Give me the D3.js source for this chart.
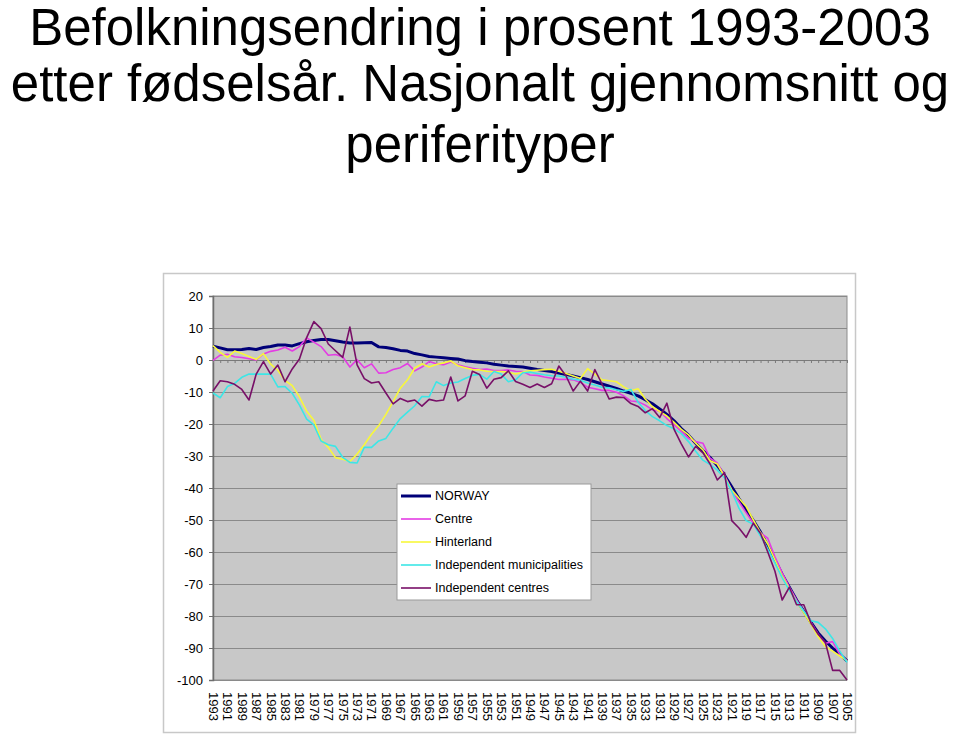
<!DOCTYPE html>
<html>
<head>
<meta charset="utf-8">
<script src="https://cdn.jsdelivr.net/npm/d3@7"></script>
<style>
html,body{margin:0;padding:0;background:#fff;}
svg{display:block;font-family:"Liberation Sans",Arial,sans-serif;}
</style>
</head>
<body>
<svg id="chart" width="960" height="734"></svg>
<script>
const titleLines = ["Befolkningsendring i prosent 1993-2003", "etter fødselsår. Nasjonalt gjennomsnitt og", "periferityper"];

const years = [1993,1992,1991,1990,1989,1988,1987,1986,1985,1984,1983,1982,1981,1980,1979,1978,1977,1976,1975,1974,
1973,1972,1971,1970,1969,1968,1967,1966,1965,1964,1963,1962,1961,1960,1959,1958,1957,1956,1955,1954,
1953,1952,1951,1950,1949,1948,1947,1946,1945,1944,1943,1942,1941,1940,1939,1938,1937,1936,1935,1934,
1933,1932,1931,1930,1929,1928,1927,1926,1925,1924,1923,1922,1921,1920,1919,1918,1917,1916,1915,1914,
1913,1912,1911,1910,1909,1908,1907,1906,1905];

const xTickLabels = [1993,1991,1989,1987,1985,1983,1981,1979,1977,1975,1973,1971,1969,1967,1965,1963,1961,1959,1957,1955,
1953,1951,1949,1947,1945,1943,1941,1939,1937,1935,1933,1931,1929,1927,1925,1923,1921,1919,1917,1915,1913,1911,1909,1907,1905];

const yTicks = [20,10,0,-10,-20,-30,-40,-50,-60,-70,-80,-90,-100];

const seriesNames = ["NORWAY","Centre","Hinterland","Independent municipalities","Independent centres"];

const norway = [4.3,3.8,3.2,3.2,3.3,3.6,3.3,3.9,4.2,4.7,4.7,4.4,5.1,5.7,6.1,6.4,6.4,6.0,5.6,5.3,
5.3,5.4,5.5,4.1,3.9,3.5,3.0,2.8,2.0,1.6,1.1,0.9,0.7,0.5,0.3,-0.2,-0.5,-0.7,-0.9,-1.3,
-1.6,-1.9,-2.0,-2.2,-2.6,-3.0,-3.3,-3.6,-4.1,-4.5,-5.0,-5.5,-6.1,-6.8,-7.5,-8.2,-8.9,-9.7,-10.4,-11.2,
-12.4,-13.7,-15.3,-17.0,-19.0,-21.4,-23.5,-26.0,-28.3,-30.5,-33.0,-36.0,-39.6,-43.3,-46.8,-50.2,-53.8,-58.0,-62.5,-67.0,
-71.0,-75.0,-78.5,-82.0,-85.3,-87.8,-90.0,-92.0,-94.0];

const centre = [-0.1,1.5,1.8,1.0,0.8,0.4,0.0,1.9,2.7,3.1,4.0,2.8,4.2,6.9,5.6,4.2,1.5,1.7,1.0,-2.2,
0.1,-2.4,-1.2,-4.1,-4.0,-3.0,-2.4,-1.1,-3.4,-2.2,-0.5,-1.2,-1.5,-0.6,-1.5,-2.1,-2.6,-3.0,-2.8,-3.3,
-3.3,-3.1,-3.5,-3.6,-4.7,-4.8,-5.3,-5.7,-6.1,-6.0,-6.2,-7.0,-8.5,-9.0,-9.5,-9.5,-10.1,-11.2,-12.8,-13.0,
-14.1,-15.6,-16.0,-18.3,-20.3,-22.3,-24.5,-25.5,-26.0,-30.7,-32.2,-36.0,-40.6,-44.3,-47.7,-51.0,-54.0,-55.7,-61.5,-66.5,
-71.0,-75.0,-78.5,-82.0,-85.7,-88.5,-88.0,-92.0,-94.0];

const hinterland = [4.5,2.4,0.8,2.8,2.0,1.1,0.2,2.0,-1.3,-3.2,-6.4,-8.0,-11.5,-16.0,-18.8,-24.8,-27.3,-30.5,-31.0,-31.7,
-29.4,-26.5,-23.2,-20.5,-17.0,-13.0,-8.8,-6.2,-2.5,-1.2,-2.2,-1.4,-0.9,-0.3,-1.8,-2.4,-3.0,-3.1,-3.5,-3.6,
-3.6,-3.8,-4.4,-3.8,-3.4,-3.2,-3.0,-2.9,-3.5,-4.2,-5.0,-5.8,-2.7,-4.4,-6.2,-6.5,-6.8,-8.4,-9.6,-9.0,
-12.2,-14.6,-16.1,-17.5,-19.5,-21.7,-23.4,-26.0,-28.1,-31.5,-32.5,-36.5,-40.6,-43.2,-45.8,-50.0,-54.0,-57.5,-62.5,-67.5,
-71.5,-75.5,-79.0,-82.5,-86.5,-89.5,-91.0,-92.5,-94.0];

const indepMunicipalities = [-10.3,-11.8,-8.3,-7.3,-5.4,-4.4,-4.4,-4.4,-4.4,-8.4,-8.3,-10.4,-14.1,-18.5,-20.3,-25.3,-26.5,-27.0,-30.4,-32.0,
-32.2,-27.3,-27.3,-25.3,-24.5,-21.3,-18.3,-16.3,-14.3,-11.4,-11.5,-6.8,-8.0,-7.2,-6.9,-5.8,-4.8,-4.5,-6.0,-3.6,
-4.4,-6.8,-6.2,-4.0,-3.8,-4.2,-4.6,-4.9,-5.0,-5.4,-6.0,-6.3,-7.2,-7.8,-8.5,-8.7,-9.3,-9.8,-9.2,-13.2,
-15.8,-17.7,-19.0,-20.5,-21.5,-23.0,-25.5,-28.5,-31.3,-32.7,-34.4,-36.8,-41.0,-46.3,-50.2,-51.3,-55.0,-59.0,-63.5,-68.0,
-72.0,-75.5,-78.5,-81.5,-82.0,-84.0,-87.0,-91.0,-94.5];

const indepCentres = [-9.7,-6.5,-6.8,-7.6,-9.2,-12.5,-4.4,-0.5,-4.4,-1.6,-6.8,-2.8,0.3,7.0,12.0,9.8,5.0,2.9,0.8,10.3,
-1.5,-5.8,-7.2,-6.8,-10.3,-13.7,-12.0,-13.0,-12.5,-14.4,-12.3,-12.8,-12.5,-5.3,-12.8,-11.2,-3.5,-4.5,-8.8,-6.0,
-5.5,-3.4,-6.7,-7.6,-8.6,-7.5,-8.6,-7.4,-1.9,-5.0,-9.7,-6.6,-9.7,-3.0,-7.5,-12.2,-11.6,-11.7,-13.6,-14.5,
-16.5,-15.2,-18.0,-13.5,-21.7,-26.2,-30.3,-27.0,-29.0,-32.5,-37.5,-35.2,-50.2,-52.5,-55.4,-51.0,-54.2,-60.0,-66.0,-75.0,
-71.0,-76.5,-76.5,-82.2,-85.7,-88.3,-97.0,-97.0,-100.0];

const seriesValues = [norway, centre, hinterland, indepMunicipalities, indepCentres];
const seriesColors = ["#000078", "#e43ce4", "#f8f83a", "#3ce6e6", "#781068"];
const seriesWidths = [3, 1.6, 1.6, 1.6, 1.6];

const svg = d3.select("#chart");

// title
svg.append("g").selectAll("text").data(titleLines).join("text")
  .attr("x", 480)
  .attr("y", (d, i) => [45, 101, 162][i])
  .attr("text-anchor", "middle")
  .attr("font-size", 51)
  .attr("fill", "#000")
  .text(d => d);

// outer chart frame
svg.append("rect")
  .attr("x", 163.5).attr("y", 273.5).attr("width", 692).attr("height", 459)
  .attr("fill", "#fff").attr("stroke", "#c8c8c8").attr("stroke-width", 1.5);

const plot = {left: 213, right: 847, top: 296, bottom: 680};

const x = d3.scalePoint().domain(years).range([plot.left, plot.right]);
const y = d3.scaleLinear().domain([-100, 20]).range([plot.bottom, plot.top]);

// plot background
svg.append("rect")
  .attr("x", plot.left).attr("y", plot.top)
  .attr("width", plot.right - plot.left).attr("height", plot.bottom - plot.top)
  .attr("fill", "#c8c8c8").attr("stroke", "#8c8c8c").attr("stroke-width", 1);

// gridlines
const grid = svg.append("g").attr("transform", `translate(${plot.left},0)`)
  .call(d3.axisLeft(y).tickValues(yTicks).tickSize(-(plot.right - plot.left)).tickFormat(""));
grid.select(".domain").remove();
grid.selectAll("line").attr("stroke", "#8a8a8a").attr("stroke-width", 1.2);

// y axis
const yAxis = svg.append("g").attr("transform", `translate(${plot.left},0)`)
  .call(d3.axisLeft(y).tickValues(yTicks).tickSize(4).tickPadding(6).tickFormat(d => String(d)));
yAxis.select(".domain").attr("stroke", "#6e6e6e").attr("stroke-width", 1.5);
yAxis.selectAll("line").attr("stroke", "#6e6e6e");
yAxis.selectAll("text").attr("font-size", 13).attr("fill", "#000")
  .attr("font-family", "Liberation Sans, Arial, sans-serif");

// category axis at zero
const zAxis = svg.append("g").attr("transform", `translate(0,${y(0)})`)
  .call(d3.axisBottom(x).tickValues(years).tickSize(3).tickFormat(""));
zAxis.select(".domain").attr("stroke", "#7a7a7a").attr("stroke-width", 1);
zAxis.selectAll("line").attr("stroke", "#7a7a7a");

// category labels at the bottom
const xAxis = svg.append("g").attr("transform", `translate(0,${plot.bottom})`)
  .call(d3.axisBottom(x).tickValues(xTickLabels).tickSize(0).tickFormat(d => String(d)));
xAxis.select(".domain").remove();
xAxis.selectAll("text")
  .attr("font-size", 13)
  .attr("font-family", "Liberation Sans, Arial, sans-serif")
  .attr("fill", "#000")
  .attr("text-anchor", "start")
  .attr("transform", "rotate(90)")
  .attr("x", 12)
  .attr("y", 0)
  .attr("dy", "0.35em");

// lines
const line = d3.line().x((d, i) => x(years[i])).y(d => y(d));
svg.append("g").selectAll("path").data(seriesValues).join("path")
  .attr("d", d => line(d))
  .attr("fill", "none")
  .attr("stroke", (d, i) => seriesColors[i])
  .attr("stroke-width", (d, i) => seriesWidths[i])
  .attr("stroke-linejoin", "round");

// legend
const lg = svg.append("g").attr("transform", "translate(397,484)");
lg.append("rect").attr("width", 194).attr("height", 116)
  .attr("fill", "#fff").attr("stroke", "#9a9a9a").attr("stroke-width", 1);
const items = lg.selectAll("g.item").data(seriesNames).join("g")
  .attr("class", "item")
  .attr("transform", (d, i) => `translate(0,${12 + i * 23})`);
items.append("line").attr("x1", 4).attr("x2", 34)
  .attr("stroke", (d, i) => seriesColors[i])
  .attr("stroke-width", (d, i) => i === 0 ? 3 : 1.6);
items.append("text").attr("x", 38).attr("dy", "0.35em")
  .attr("font-size", 12.5).attr("fill", "#000")
  .text(d => d);
</script>
</body>
</html>
